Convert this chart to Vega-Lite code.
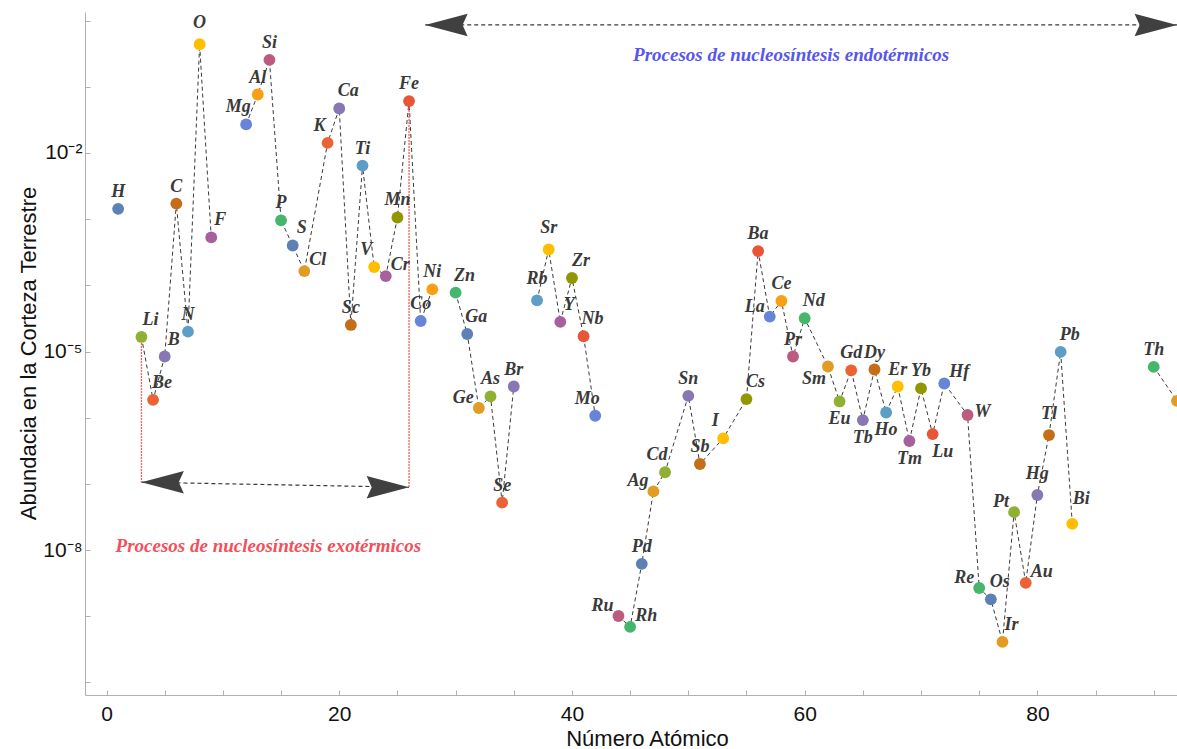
{
  "$schema": "https://vega.github.io/schema/vega-lite/v6.json",
  "width": 1092,
  "height": 683,
  "autosize": {"type": "none"},
  "padding": {"left": 85, "top": 12, "right": 0, "bottom": 54},
  "background": "white",
  "config": {
    "view": {"stroke": null},
    "axis": {"grid": false, "domainColor": "#b0b0b0", "tickColor": "#b0b0b0", "labelColor": "#111", "titleColor": "#111", "labelFont": "Liberation Sans", "titleFont": "Liberation Sans", "titleFontWeight": "normal"}
  },
  "datasets": {
    "elements": [
      {"el": "H", "x": 1, "y": 0.00143},
      {"el": "Li", "x": 3, "y": 0.0000166},
      {"el": "Be", "x": 4, "y": 0.00000186},
      {"el": "B", "x": 5, "y": 0.0000084},
      {"el": "C", "x": 6, "y": 0.00172},
      {"el": "N", "x": 7, "y": 0.00002},
      {"el": "O", "x": 8, "y": 0.44},
      {"el": "F", "x": 9, "y": 0.00053},
      {"el": "Mg", "x": 12, "y": 0.027},
      {"el": "Al", "x": 13, "y": 0.0764},
      {"el": "Si", "x": 14, "y": 0.255},
      {"el": "P", "x": 15, "y": 0.00096},
      {"el": "S", "x": 16, "y": 0.0004},
      {"el": "Cl", "x": 17, "y": 0.000164},
      {"el": "K", "x": 19, "y": 0.0142},
      {"el": "Ca", "x": 20, "y": 0.047},
      {"el": "Sc", "x": 21, "y": 0.0000252},
      {"el": "Ti", "x": 22, "y": 0.00644},
      {"el": "V", "x": 23, "y": 0.000189},
      {"el": "Cr", "x": 24, "y": 0.000138},
      {"el": "Mn", "x": 25, "y": 0.00106},
      {"el": "Fe", "x": 26, "y": 0.0608},
      {"el": "Co", "x": 27, "y": 0.0000289},
      {"el": "Ni", "x": 28, "y": 0.000087},
      {"el": "Zn", "x": 30, "y": 0.0000775},
      {"el": "Ga", "x": 31, "y": 0.0000184},
      {"el": "Ge", "x": 32, "y": 0.0000014},
      {"el": "As", "x": 33, "y": 0.0000021},
      {"el": "Se", "x": 34, "y": 0.000000052},
      {"el": "Br", "x": 35, "y": 0.00000296},
      {"el": "Rb", "x": 37, "y": 0.0000593},
      {"el": "Sr", "x": 38, "y": 0.000348},
      {"el": "Y", "x": 39, "y": 0.000028},
      {"el": "Zr", "x": 40, "y": 0.000129},
      {"el": "Nb", "x": 41, "y": 0.000017},
      {"el": "Mo", "x": 42, "y": 0.00000107},
      {"el": "Ru", "x": 44, "y": 1.01e-9},
      {"el": "Rh", "x": 45, "y": 6.9e-10},
      {"el": "Pd", "x": 46, "y": 6.2e-9},
      {"el": "Ag", "x": 47, "y": 7.7e-8},
      {"el": "Cd", "x": 48, "y": 1.5e-7},
      {"el": "Sn", "x": 50, "y": 0.00000214},
      {"el": "Sb", "x": 51, "y": 2.0e-7},
      {"el": "I", "x": 53, "y": 4.88e-7},
      {"el": "Cs", "x": 55, "y": 0.00000191},
      {"el": "Ba", "x": 56, "y": 0.000329},
      {"el": "La", "x": 57, "y": 0.0000337},
      {"el": "Ce", "x": 58, "y": 0.000058},
      {"el": "Pr", "x": 59, "y": 0.0000084},
      {"el": "Nd", "x": 60, "y": 0.0000318},
      {"el": "Sm", "x": 62, "y": 0.00000594},
      {"el": "Eu", "x": 63, "y": 0.00000176},
      {"el": "Gd", "x": 64, "y": 0.0000052},
      {"el": "Tb", "x": 65, "y": 9.2e-7},
      {"el": "Dy", "x": 66, "y": 0.00000535},
      {"el": "Ho", "x": 67, "y": 0.0000012},
      {"el": "Er", "x": 68, "y": 0.00000296},
      {"el": "Tm", "x": 69, "y": 4.45e-7},
      {"el": "Yb", "x": 70, "y": 0.00000277},
      {"el": "Lu", "x": 71, "y": 5.66e-7},
      {"el": "Hf", "x": 72, "y": 0.00000329},
      {"el": "W", "x": 74, "y": 0.0000011},
      {"el": "Re", "x": 75, "y": 2.67e-9},
      {"el": "Os", "x": 76, "y": 1.8e-9},
      {"el": "Ir", "x": 77, "y": 4.1e-10},
      {"el": "Pt", "x": 78, "y": 3.74e-8},
      {"el": "Au", "x": 79, "y": 3.2e-9},
      {"el": "Hg", "x": 80, "y": 6.8e-8},
      {"el": "Tl", "x": 81, "y": 5.47e-7},
      {"el": "Pb", "x": 82, "y": 0.00000987},
      {"el": "Bi", "x": 83, "y": 2.49e-8},
      {"el": "Th", "x": 90, "y": 0.00000586},
      {"el": "U", "x": 92, "y": 0.0000018}
    ],
    "arrows": [
      {"arrow": "endo", "x": 27.39, "y": 0.859, "xe": 92, "ye": 0.859},
      {"arrow": "exo", "x": 3, "y": 1.06e-7, "xe": 26, "ye": 8.9e-8}
    ],
    "heads": [
      {"dir": "left", "x": 27.39, "y": 0.859},
      {"dir": "right", "x": 92, "y": 0.859},
      {"dir": "left", "x": 3, "y": 1.06e-7},
      {"dir": "right", "x": 26, "y": 8.9e-8}
    ],
    "bounds": [
      {"x": 3, "y": 0.0000166, "ye": 1.06e-7},
      {"x": 26, "y": 0.0608, "ye": 8.9e-8}
    ],
    "notes": [
      {"note": "endo", "x": 58.84, "y": 0.303, "text": "Procesos de nucleosíntesis endotérmicos"},
      {"note": "exo", "x": 13.91, "y": 1.15e-8, "text": "Procesos de nucleosíntesis exotérmicos"}
    ]
  },
  "encoding": {
    "x": {
      "field": "x", "type": "quantitative",
      "scale": {"domain": [-1.85, 92], "nice": false, "zero": false},
      "axis": {
        "title": "Número Atómico", "titleFontSize": 22, "titleX": 562, "titleY": 43, "titleBaseline": "middle", "titleAlign": "center",
        "values": [0, 5, 10, 15, 20, 25, 30, 35, 40, 45, 50, 55, 60, 65, 70, 75, 80, 85, 90],
        "labelExpr": "datum.value % 20 === 0 ? datum.label : ''",
        "labelFontSize": 21, "tickSize": -5, "labelPadding": 13, "labelFlush": false, "labelOverlap": false
      }
    },
    "y": {
      "field": "y", "type": "quantitative",
      "scale": {"type": "log", "domain": [6.46e-11, 1.349], "nice": false},
      "axis": {
        "title": "Abundacia en la Corteza Terrestre", "titleFontSize": 22, "titleX": -57, "titleY": 341, "titleBaseline": "middle", "titleAlign": "center", "titleAngle": -90,
        "values": [1, 0.1, 0.01, 0.001, 0.0001, 0.00001, 0.000001, 1e-7, 1e-8, 1e-9, 1e-10],
        "labelExpr": "round(log(datum.value)/LN10) == -2 ? '10⁻²' : round(log(datum.value)/LN10) == -5 ? '10⁻⁵' : round(log(datum.value)/LN10) == -8 ? '10⁻⁸' : ''",
        "labelFontSize": 21, "tickSize": -5, "labelPadding": 8, "labelOverlap": false, "labelFlush": false
      }
    }
  },
  "layer": [
    {
      "data": {"name": "elements"},
      "transform": [{"filter": {"field": "x", "range": [3, 9]}}],
      "mark": {"type": "line", "color": "#3a3a3a", "strokeWidth": 1, "strokeDash": [4, 3]},
      "encoding": {}
    },
    {
      "data": {"name": "elements"},
      "transform": [{"filter": {"field": "x", "range": [12, 28]}}],
      "mark": {"type": "line", "color": "#3a3a3a", "strokeWidth": 1, "strokeDash": [4, 3]},
      "encoding": {}
    },
    {
      "data": {"name": "elements"},
      "transform": [{"filter": {"field": "x", "range": [30, 35]}}],
      "mark": {"type": "line", "color": "#3a3a3a", "strokeWidth": 1, "strokeDash": [4, 3]},
      "encoding": {}
    },
    {
      "data": {"name": "elements"},
      "transform": [{"filter": {"field": "x", "range": [37, 42]}}],
      "mark": {"type": "line", "color": "#3a3a3a", "strokeWidth": 1, "strokeDash": [4, 3]},
      "encoding": {}
    },
    {
      "data": {"name": "elements"},
      "transform": [{"filter": {"field": "x", "range": [44, 83]}}],
      "mark": {"type": "line", "color": "#3a3a3a", "strokeWidth": 1, "strokeDash": [4, 3]},
      "encoding": {}
    },
    {
      "data": {"name": "elements"},
      "transform": [{"filter": {"field": "x", "range": [90, 92]}}],
      "mark": {"type": "line", "color": "#3a3a3a", "strokeWidth": 1, "strokeDash": [4, 3]},
      "encoding": {}
    },
    {
      "data": {"name": "arrows"},
      "mark": {"type": "rule", "color": "#3a3a3a", "strokeWidth": 1.2, "strokeDash": [4, 3]},
      "encoding": {"x2": {"field": "xe"}, "y2": {"field": "ye"}}
    },
    {
      "data": {"name": "bounds"},
      "mark": {"type": "rule", "color": "#ff5a5a", "strokeWidth": 1.3, "strokeDash": [2, 1]},
      "encoding": {"y2": {"field": "ye"}}
    },
    {
      "data": {"name": "heads"},
      "transform": [{"filter": "datum.dir === 'left'"}],
      "mark": {"type": "point", "shape": "M0,0L2,-0.53L1.76,0L2,0.53Z", "size": 1800, "filled": true, "color": "#404040", "opacity": 1, "strokeWidth": 0}
    },
    {
      "data": {"name": "heads"},
      "transform": [{"filter": "datum.dir === 'right'"}],
      "mark": {"type": "point", "shape": "M0,0L-2,-0.53L-1.76,0L-2,0.53Z", "size": 1800, "filled": true, "color": "#404040", "opacity": 1, "strokeWidth": 0}
    },
    {
      "data": {"name": "elements"},
      "mark": {"type": "circle", "size": 140, "opacity": 1},
      "encoding": {
        "color": {
          "field": "el", "type": "nominal", "legend": null,
          "scale": {
            "domain": ["H","Li","Be","B","C","N","O","F","Mg","Al","Si","P","S","Cl","K","Ca","Sc","Ti","V","Cr","Mn","Fe","Co","Ni","Zn","Ga","Ge","As","Se","Br","Rb","Sr","Y","Zr","Nb","Mo","Ru","Rh","Pd","Ag","Cd","Sn","Sb","I","Cs","Ba","La","Ce","Pr","Nd","Sm","Eu","Gd","Tb","Dy","Ho","Er","Tm","Yb","Lu","Hf","W","Re","Os","Ir","Pt","Au","Hg","Tl","Pb","Bi","Th","U"],
            "range": ["#5E81B5","#8FB032","#EB6235","#8778B3","#C56E1A","#5D9EC7","#FFBF00","#A5609D","#6685D9","#F89F13","#BC5B80","#47B66D","#5E81B5","#E19C24","#EB6235","#8778B3","#C56E1A","#5D9EC7","#FFBF00","#A5609D","#929600","#E95536","#6685D9","#F89F13","#47B66D","#5E81B5","#E19C24","#8FB032","#EB6235","#8778B3","#5D9EC7","#FFBF00","#A5609D","#929600","#E95536","#6685D9","#BC5B80","#47B66D","#5E81B5","#E19C24","#8FB032","#8778B3","#C56E1A","#FFBF00","#929600","#E95536","#6685D9","#F89F13","#BC5B80","#47B66D","#E19C24","#8FB032","#EB6235","#8778B3","#C56E1A","#5D9EC7","#FFBF00","#A5609D","#929600","#E95536","#6685D9","#BC5B80","#47B66D","#5E81B5","#E19C24","#8FB032","#EB6235","#8778B3","#C56E1A","#5D9EC7","#FFBF00","#47B66D","#E19C24"]
          }
        }
      }
    },
    {
      "data": {"name": "elements"},
      "transform": [{"filter": {"field": "el", "oneOf": ["H","C","N","Al","Si","P","Sc","Ti","Mn","Fe","Co","Ni","As","Se","Br","Sn","Sb","Ba","Ce","Pr","Gd","Pd","Dy","Er","Yb","Th"]}}],
      "mark": {"type": "text", "font": "Liberation Serif", "fontStyle": "italic", "fontWeight": "bold", "fontSize": 18, "color": "#3a3a3a", "align": "center", "baseline": "middle", "dx": 0, "dy": -17},
      "encoding": {"text": {"field": "el"}}
    },
    {
      "data": {"name": "elements"},
      "transform": [{"filter": {"field": "el", "oneOf": ["O","Rb","Sr","Hg","Tl"]}}],
      "mark": {"type": "text", "font": "Liberation Serif", "fontStyle": "italic", "fontWeight": "bold", "fontSize": 18, "color": "#3a3a3a", "align": "center", "baseline": "middle", "dx": 0, "dy": -21},
      "encoding": {"text": {"field": "el"}}
    },
    {
      "data": {"name": "elements"},
      "transform": [{"filter": {"field": "el", "oneOf": ["Li","Be","B","F","S","Ca","Zn","Ga","Y","Zr","Nb","Cs","Nd","Os","Ir","Pb"]}}],
      "mark": {"type": "text", "font": "Liberation Serif", "fontStyle": "italic", "fontWeight": "bold", "fontSize": 18, "color": "#3a3a3a", "align": "center", "baseline": "middle", "dx": 9, "dy": -17},
      "encoding": {"text": {"field": "el"}}
    },
    {
      "data": {"name": "elements"},
      "transform": [{"filter": {"field": "el", "oneOf": ["Bi"]}}],
      "mark": {"type": "text", "font": "Liberation Serif", "fontStyle": "italic", "fontWeight": "bold", "fontSize": 18, "color": "#3a3a3a", "align": "center", "baseline": "middle", "dx": 9, "dy": -25},
      "encoding": {"text": {"field": "el"}}
    },
    {
      "data": {"name": "elements"},
      "transform": [{"filter": {"field": "el", "oneOf": ["Mg","K","V","Mo","Cd","I"]}}],
      "mark": {"type": "text", "font": "Liberation Serif", "fontStyle": "italic", "fontWeight": "bold", "fontSize": 18, "color": "#3a3a3a", "align": "center", "baseline": "middle", "dx": -8, "dy": -17},
      "encoding": {"text": {"field": "el"}}
    },
    {
      "data": {"name": "elements"},
      "transform": [{"filter": {"field": "el", "oneOf": ["Cl","Cr","Rh","Hf","Au"]}}],
      "mark": {"type": "text", "font": "Liberation Serif", "fontStyle": "italic", "fontWeight": "bold", "fontSize": 18, "color": "#3a3a3a", "align": "left", "baseline": "middle", "dx": 5, "dy": -11},
      "encoding": {"text": {"field": "el"}}
    },
    {
      "data": {"name": "elements"},
      "transform": [{"filter": {"field": "el", "oneOf": ["W"]}}],
      "mark": {"type": "text", "font": "Liberation Serif", "fontStyle": "italic", "fontWeight": "bold", "fontSize": 18, "color": "#3a3a3a", "align": "left", "baseline": "middle", "dx": 7, "dy": -3},
      "encoding": {"text": {"field": "el"}}
    },
    {
      "data": {"name": "elements"},
      "transform": [{"filter": {"field": "el", "oneOf": ["Ge","Ag","La","Ru","Re","Pt"]}}],
      "mark": {"type": "text", "font": "Liberation Serif", "fontStyle": "italic", "fontWeight": "bold", "fontSize": 18, "color": "#3a3a3a", "align": "right", "baseline": "middle", "dx": -5, "dy": -10},
      "encoding": {"text": {"field": "el"}}
    },
    {
      "data": {"name": "elements"},
      "transform": [{"filter": {"field": "el", "oneOf": ["Eu","Tb","Ho","Tm"]}}],
      "mark": {"type": "text", "font": "Liberation Serif", "fontStyle": "italic", "fontWeight": "bold", "fontSize": 18, "color": "#3a3a3a", "align": "center", "baseline": "middle", "dx": 0, "dy": 18},
      "encoding": {"text": {"field": "el"}}
    },
    {
      "data": {"name": "elements"},
      "transform": [{"filter": {"field": "el", "oneOf": ["Sm"]}}],
      "mark": {"type": "text", "font": "Liberation Serif", "fontStyle": "italic", "fontWeight": "bold", "fontSize": 18, "color": "#3a3a3a", "align": "center", "baseline": "middle", "dx": -14, "dy": 13},
      "encoding": {"text": {"field": "el"}}
    },
    {
      "data": {"name": "elements"},
      "transform": [{"filter": {"field": "el", "oneOf": ["Lu"]}}],
      "mark": {"type": "text", "font": "Liberation Serif", "fontStyle": "italic", "fontWeight": "bold", "fontSize": 18, "color": "#3a3a3a", "align": "center", "baseline": "middle", "dx": 10, "dy": 18},
      "encoding": {"text": {"field": "el"}}
    },
    {
      "data": {"name": "notes"},
      "transform": [{"filter": "datum.note === 'endo'"}],
      "mark": {"type": "text", "font": "Liberation Serif", "fontStyle": "italic", "fontWeight": "bold", "fontSize": 19, "color": "#5656ee", "align": "center", "baseline": "middle"},
      "encoding": {"text": {"field": "text"}}
    },
    {
      "data": {"name": "notes"},
      "transform": [{"filter": "datum.note === 'exo'"}],
      "mark": {"type": "text", "font": "Liberation Serif", "fontStyle": "italic", "fontWeight": "bold", "fontSize": 19, "color": "#f2505a", "align": "center", "baseline": "middle"},
      "encoding": {"text": {"field": "text"}}
    }
  ]
}
